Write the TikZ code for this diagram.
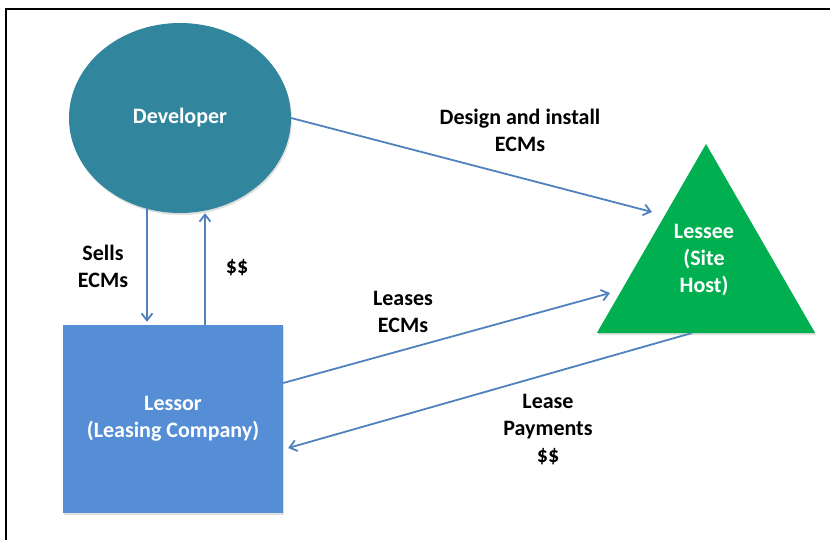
\documentclass[tikz,border=0pt]{standalone}
\usepackage{fontspec}
\setmainfont{Carlito}
\usetikzlibrary{shapes.geometric,arrows.meta,shadows}
\definecolor{devteal}{RGB}{49,133,156}
\definecolor{lessorblue}{RGB}{85,142,213}
\definecolor{lesseegreen}{RGB}{0,176,80}
\definecolor{flowblue}{RGB}{79,129,189}
\tikzset{
  flow/.style={draw=flowblue,line width=1.8pt,-{Straight Barb[length=7pt,width=11pt]}},
  party/.style={draw=none,inner sep=0pt,drop shadow={opacity=0.25,shadow xshift=1pt,shadow yshift=-2pt}},
  lbl/.style={align=center,font=\fontsize{22}{27}\selectfont\bfseries},
  inlbl/.style={lbl,text=white}
}
\begin{document}
\begin{tikzpicture}[x=1pt,y=-1pt]
\useasboundingbox (0,0) rectangle (830,539);
%frame
\draw[line width=2pt] (6,560) |- (850,9);
%parties
\node[party,ellipse,fill=devteal,minimum width=222pt,minimum height=190pt] (dev) at (180,118) {};
\node[party,rectangle,fill=lessorblue,minimum width=220pt,minimum height=188pt] (lessor) at (173,419) {};
\node[party,regular polygon,regular polygon sides=3,fill=lesseegreen,minimum size=252pt] (lessee) at (706,270) {};
%party names
\node[inlbl] (devname) at (dev.center) {Developer};
\node[inlbl] (lessorname) at (lessor.center) {Lessor\\(Leasing Company)};
\node[inlbl] (lesseename) at ([shift={(-2,-10)}]lessee.center) {Lessee\\(Site\\Host)};
%arrows
\draw[flow] (dev.east) -- ([shift={(-54,-58)}]lessee.center);
\draw[flow] ([shift={(-33,-6)}]dev.south) -- ([shift={(-26,-3)}]lessor.north);
\draw[flow] ([shift={(32,0)}]lessor.north) -- ([shift={(25,0)}]dev.south);
\draw[flow] ([shift={(0,-36)}]lessor.east) -- ([shift={(-96,23)}]lessee.center);
\draw[flow] ([shift={(-14,63)}]lessee.center) -- ([shift={(5,29)}]lessor.east);
%labels
\node[lbl] (design) at (520,130) {Design and install\\ECMs};
\node[lbl] (sells) at (103,266) {Sells\\ECMs};
\node[lbl] (money) at (237,268) {\$\$};
\node[lbl] (leases) at (403,312) {Leases\\ECMs};
\node[lbl] (payments) at (548,430) {Lease\\Payments\\\$\$};
\end{tikzpicture}
\end{document}
